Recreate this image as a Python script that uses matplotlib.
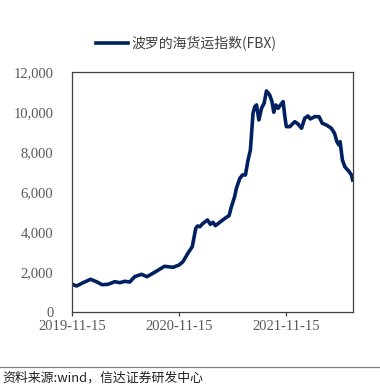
import matplotlib
matplotlib.use('Agg')
import matplotlib.pyplot as plt
import matplotlib.dates as mdates
from matplotlib.lines import Line2D
import numpy as np
import pandas as pd

plt.rcParams['font.family'] = ['Noto Sans CJK SC', 'DejaVu Sans']

# FBX index
dates = pd.to_datetime([
    '2019-11-15', '2019-11-30', '2019-12-22', '2020-01-17', '2020-02-06',
    '2020-02-25', '2020-03-17', '2020-04-09', '2020-04-26', '2020-05-13',
    '2020-05-30', '2020-06-16', '2020-07-09', '2020-07-28', '2020-08-23',
    '2020-09-09', '2020-09-26', '2020-10-25', '2020-11-15', '2020-11-28',
    '2020-12-15', '2020-12-30', '2021-01-11', '2021-01-17', '2021-01-25',
    '2021-02-05', '2021-02-20', '2021-03-02', '2021-03-11', '2021-03-19',
    '2021-04-09', '2021-04-26', '2021-05-05', '2021-05-13', '2021-05-24',
    '2021-05-30', '2021-06-11', '2021-06-20', '2021-06-30', '2021-07-09',
    '2021-07-17', '2021-07-26', '2021-08-01', '2021-08-07', '2021-08-15',
    '2021-08-24', '2021-09-02', '2021-09-10', '2021-09-21', '2021-09-29',
    '2021-10-05', '2021-10-12', '2021-10-20', '2021-10-28', '2021-11-06',
    '2021-11-12', '2021-11-17', '2021-11-29', '2021-12-16', '2021-12-27',
    '2022-01-08', '2022-01-19', '2022-01-30', '2022-02-07', '2022-02-22',
    '2022-03-09', '2022-03-20', '2022-04-03', '2022-04-20', '2022-05-01',
    '2022-05-09', '2022-05-16', '2022-05-20', '2022-05-28', '2022-06-05',
    '2022-06-20', '2022-06-28', '2022-07-02',
])
fbx = [
    1374, 1288, 1454, 1624, 1504,
    1354, 1374, 1504, 1454, 1524,
    1489, 1755, 1875, 1755, 1975,
    2125, 2276, 2226, 2341, 2507,
    2928, 3259, 4180, 4296, 4261,
    4432, 4597, 4381, 4482, 4311,
    4547, 4732, 4813, 5264, 5765,
    6186, 6687, 6853, 6853, 7605,
    8106, 9946, 10277, 10362, 9610,
    10196, 10447, 11064, 10863, 10527,
    9996, 10362, 10196, 10362, 10527,
    9775, 9274, 9274, 9525, 9409,
    9193, 9694, 9810, 9660, 9775,
    9775, 9443, 9359, 9193, 8943,
    8522, 8357, 8522, 7605, 7269,
    7018, 6853, 6602,
]
xticks = pd.to_datetime(['2019-11-15', '2020-11-15', '2021-11-15'])
yticks = [0, 2000, 4000, 6000, 8000, 10000, 12000]

navy = '#002060'
grey = '#595959'

fig = plt.figure(figsize=(3.8, 3.89), dpi=100)
ax = fig.add_axes([0.190, 0.1987, 0.738, 0.6155])

ax.plot(dates, fbx, color=navy, lw=2.6, solid_joinstyle='round',
        label='波罗的海货运指数(FBX)')

ax.set_xlim(pd.Timestamp('2019-11-15'), pd.Timestamp('2022-07-02'))
ax.set_ylim(0, 12000)
ax.set_xticks(xticks)
ax.xaxis.set_major_formatter(mdates.DateFormatter('%Y-%m-%d'))
ax.set_yticks(yticks)
ax.set_yticklabels(['{:,}'.format(v) for v in yticks])

for s in ax.spines.values():
    s.set_color('#404040')
    s.set_linewidth(0.9)

ax.tick_params(axis='x', direction='out', length=3, width=0.9, color='#404040',
               labelsize=10.5, labelcolor=grey, pad=3)
ax.tick_params(axis='y', length=0, labelsize=10.5, labelcolor=grey, pad=13.5)
for lab in ax.get_xticklabels() + ax.get_yticklabels():
    lab.set_family(['Liberation Serif', 'DejaVu Serif'])

fig.legend(loc='center', bbox_to_anchor=(0.49, 0.889), frameon=False,
           fontsize=10, handlelength=2.3, handletextpad=0.3,
           labelcolor='#404040')

fig.add_artist(Line2D([0, 1], [1 - 367.3 / 389] * 2, color='#808080', lw=0.9))
fig.text(0.005, 1 - 378 / 389, '资料来源:wind，信达证券研发中心', fontsize=9.3,
         style='italic', color='#202020', va='center', ha='left')

fig.savefig('out.png', dpi=100)
